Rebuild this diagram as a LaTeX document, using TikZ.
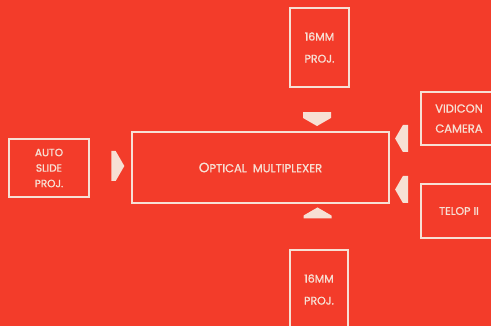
\documentclass[tikz,border=0pt]{standalone}
\usepackage{fontspec}
\setmainfont{Poppins}[FakeBold=1.2]
\usetikzlibrary{shapes.arrows,positioning}

\definecolor{bg}{RGB}{243,60,42}
\definecolor{ink}{RGB}{247,224,212}

\tikzset{
  unit/.style={draw=ink,line width=1.2pt,text=ink,align=center,
    inner sep=0pt,font=\fontsize{11}{22}\selectfont},
  pointer/.style={single arrow,fill=ink,draw=none,inner sep=0pt,
    single arrow head extend=0pt,single arrow tip angle=120,
    minimum width=28pt,minimum height=14pt}
}

\begin{document}
\begin{tikzpicture}[x=1pt,y=-1pt]
  \useasboundingbox (0,0) rectangle (491,326);
  \clip (0,0) rectangle (491,326);
  \fill[bg] (0,0) rectangle (491,326);
  % boxes
  \node[unit,minimum width=257pt,minimum height=71pt] (mux) at (260.5,167.5)
    {{\fontsize{13.5}{14}\selectfont O}{\fontsize{11.5}{12}\selectfont PTICAL\ \ MULTIPLEXER}};
  \node[unit,minimum width=59pt,minimum height=79pt] (projtop) at (319.5,47.5)
    {16MM\\PROJ.};
  \node[unit,minimum width=58pt,minimum height=79pt] (projbot) at (319,289.5)
    {16MM\\PROJ.};
  \node[unit,minimum width=80pt,minimum height=58pt,
    font=\fontsize{10.5}{15.5}\selectfont] (slide) at (49,168)
    {AUTO\\SLIDE\\PROJ.};
  \node[unit,minimum width=76pt,minimum height=53pt,
    font=\fontsize{11.5}{20}\selectfont] (vidicon) at (459,118.5)
    {VIDICON\\CAMERA};
  \node[unit,minimum width=76pt,minimum height=54pt] (telop) at (459,211)
    {TELOP II};
  % arrowheads
  \node[pointer,rotate=-90] (intop) at (317,115) {};
  \node[pointer,rotate=90,minimum height=11pt] (inbot) at (317.5,217) {};
  \node[pointer,minimum width=30pt,minimum height=13pt] (inslide) at (113.5,166) {};
  \node[pointer,rotate=180,minimum width=27pt,minimum height=13pt] (invid) at (405.5,138.5) {};
  \node[pointer,rotate=180,minimum width=27pt,minimum height=13pt] (intel) at (405.5,189.5) {};
\end{tikzpicture}
\end{document}
